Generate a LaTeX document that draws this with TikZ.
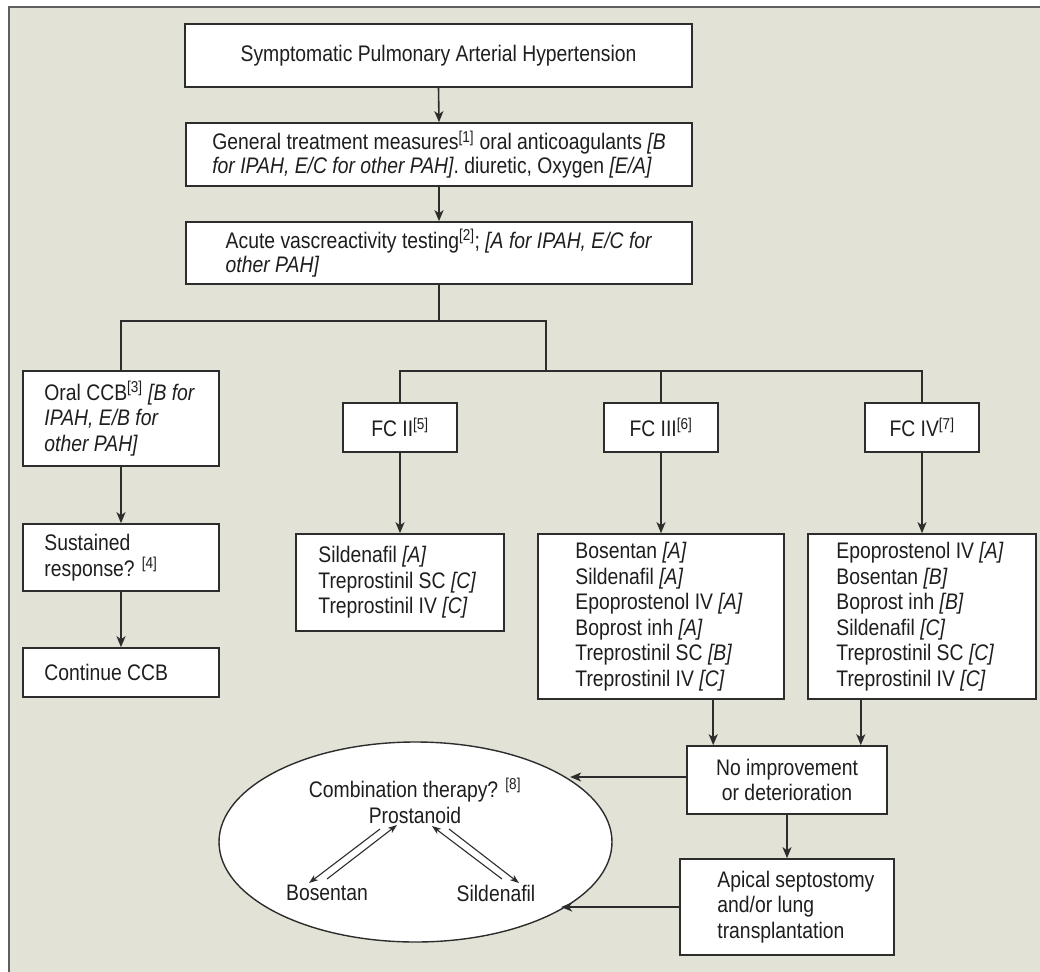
\documentclass[tikz,border=0pt]{standalone}
\usepackage{fontspec}
\setmainfont{Liberation Sans}[FakeStretch=0.86]
\usetikzlibrary{arrows.meta,shapes.geometric,calc}
\definecolor{bgc}{RGB}{226,227,214}
\definecolor{ln}{RGB}{45,45,45}
\definecolor{fr}{RGB}{95,95,95}
\definecolor{tx}{RGB}{30,30,30}
\newcommand\myfs{\fontsize{22.5}{24}\selectfont}
\newcommand\myfl{\fontsize{22.5}{25.5}\selectfont}
\tikzset{
  box/.style={draw=ln, line width=1.6pt, fill=white, inner sep=0pt, font=\myfs, text=tx},
  txt/.style={inner sep=0pt, anchor=west, align=left, font=\myfl, text=tx},
  ctxt/.style={inner sep=0pt, font=\myfl, text=tx},
  con/.style={draw=ln, line width=1.6pt},
  arr/.style={draw=ln, line width=1.6pt, -{Stealth[length=11pt,width=9pt,inset=3pt]}},
  sarr/.style={draw=ln, line width=1.1pt, -{Stealth[length=9pt,width=6.5pt,inset=2.5pt]}},
}
\begin{document}
\begin{tikzpicture}[x=1pt,y=-1pt]
\useasboundingbox (0,0) rectangle (1040,971);
\clip (0,0) rectangle (1040,971);
\fill[white] (0,0) rectangle (1040,971);
\fill[bgc] (9,7) rectangle (1060,990);
\draw[fr, line width=2pt] (9,990) -- (9,7) -- (1060,7);

% top boxes
\node[box, minimum width=507pt, minimum height=63pt] (top) at (438.5,55.5) {Symptomatic Pulmonary Arterial Hypertension};
\node[box, minimum width=506pt, minimum height=63pt, align=left] (gen) at (439,154.5)
  {General treatment measures\textsuperscript{[1]} oral anticoagulants \textit{[B}\\
   \textit{for IPAH, E/C for other PAH]}. diuretic, Oxygen \textit{[E/A]}};
\node[box, minimum width=506pt, minimum height=62pt, align=left] (acute) at (439,253)
  {Acute vascreactivity testing\textsuperscript{[2]}; \textit{[A for IPAH, E/C for}\\
   \textit{other PAH]}};

% left column
\node[box, minimum width=196pt, minimum height=95pt] (ccb) at (121,418.5) {};
\node[txt] (ccbT) at ([xshift=22pt]ccb.west) {Oral CCB\textsuperscript{[3]} \textit{[B for}\\\textit{IPAH, E/B for}\\\textit{other PAH]}};
\node[box, minimum width=196pt, minimum height=67pt] (sus) at (121,557.5) {};
\node[txt] (susT) at ([xshift=22pt]sus.west) {Sustained\\response? \textsuperscript{[4]}};
\node[box, minimum width=196pt, minimum height=49pt] (cont) at (121,672.5) {};
\node[txt] (contT) at ([xshift=22pt]cont.west) {Continue CCB};

% FC boxes
\node[box, minimum width=114pt, minimum height=49pt] (fc2) at (400,427.5) {FC II\textsuperscript{[5]}};
\node[box, minimum width=114pt, minimum height=49pt] (fc3) at (661,427.5) {FC III\textsuperscript{[6]}};
\node[box, minimum width=114pt, minimum height=49pt] (fc4) at (922,427.5) {FC IV\textsuperscript{[7]}};

% lists
\node[box, minimum width=208pt, minimum height=97pt] (l2) at (400,582.5) {};
\node[txt] (l2T) at ([xshift=23pt]l2.west) {Sildenafil \textit{[A]}\\Treprostinil SC \textit{[C]}\\Treprostinil IV \textit{[C]}};
\node[box, minimum width=246pt, minimum height=165pt] (l3) at (661,616.5) {};
\node[txt] (l3T) at ([xshift=38pt]l3.west) {Bosentan \textit{[A]}\\Sildenafil \textit{[A]}\\Epoprostenol IV \textit{[A]}\\Boprost inh \textit{[A]}\\Treprostinil SC \textit{[B]}\\Treprostinil IV \textit{[C]}};
\node[box, minimum width=228pt, minimum height=165pt] (l4) at (922,616.5) {};
\node[txt] (l4T) at ([xshift=29pt]l4.west) {Epoprostenol IV \textit{[A]}\\Bosentan \textit{[B]}\\Boprost inh \textit{[B]}\\Sildenafil \textit{[C]}\\Treprostinil SC \textit{[C]}\\Treprostinil IV \textit{[C]}};

% bottom
\node[box, minimum width=200pt, minimum height=68pt, align=center, font=\myfl] (noimp) at (787,780) {No improvement\\or deterioration};
\node[box, minimum width=214pt, minimum height=96pt] (apical) at (787,907) {};
\node[txt] (apT) at ([xshift=38pt]apical.west) {Apical septostomy\\and/or lung\\transplantation};

\node[ellipse, draw=ln, line width=1.4pt, fill=white, minimum width=393pt, minimum height=200pt, inner sep=0pt] (ell) at (415.5,842) {};
\node[ctxt] (comb) at (415,790) {Combination therapy? \textsuperscript{[8]}};
\node[ctxt] (pros) at (415,815) {Prostanoid};
\node[ctxt] (bos) at (327,893) {Bosentan};
\node[ctxt] (sil) at (496,893) {Sildenafil};

% connectors
\draw[arr] (top.south) -- (gen.north);
\draw[arr] (gen.south) -- (acute.north);
\coordinate (b1) at (546,321);
\coordinate (b2) at (546,371);
\draw[con] (acute.south) -- (acute.south |- b1);
\draw[con] (ccb.north) |- (b1) -- (b2);
\draw[con] (fc2.north) |- (b2) -| (fc4.north);
\draw[con] (fc3.north) -- (fc3.north |- b2);
\draw[arr] (ccb.south) -- (sus.north);
\draw[arr] (sus.south) -- (cont.north);
\draw[arr] (fc2.south) -- (l2.north);
\draw[arr] (fc3.south) -- (l3.north);
\draw[arr] (fc4.south) -- (l4.north);
\draw[arr] ([xshift=27pt]noimp.north west |- l3.south) -- ([xshift=27pt]noimp.north west);
\draw[arr] ([xshift=-27pt]noimp.north east |- l4.south) -- ([xshift=-27pt]noimp.north east);
\draw[arr] (noimp.south) -- (apical.north);
\draw[arr] ([yshift=3pt]noimp.west) -- ([yshift=3pt]noimp.west -| ell.22);
\draw[arr] (apical.west) -- (apical.west -| ell.-25);

% inner arrows
\draw[sarr] ([shift={(-35,14)}]pros.center) -- ([shift={(-18,-10)}]bos.center);
\draw[sarr] ([shift={(0,-14)}]bos.center) -- ([shift={(-18,10)}]pros.center);
\draw[sarr] ([shift={(6,-14)}]sil.center) -- ([shift={(17,11)}]pros.center);
\draw[sarr] ([shift={(34,14)}]pros.center) -- ([shift={(23,-10)}]sil.center);
\end{tikzpicture}
\end{document}
